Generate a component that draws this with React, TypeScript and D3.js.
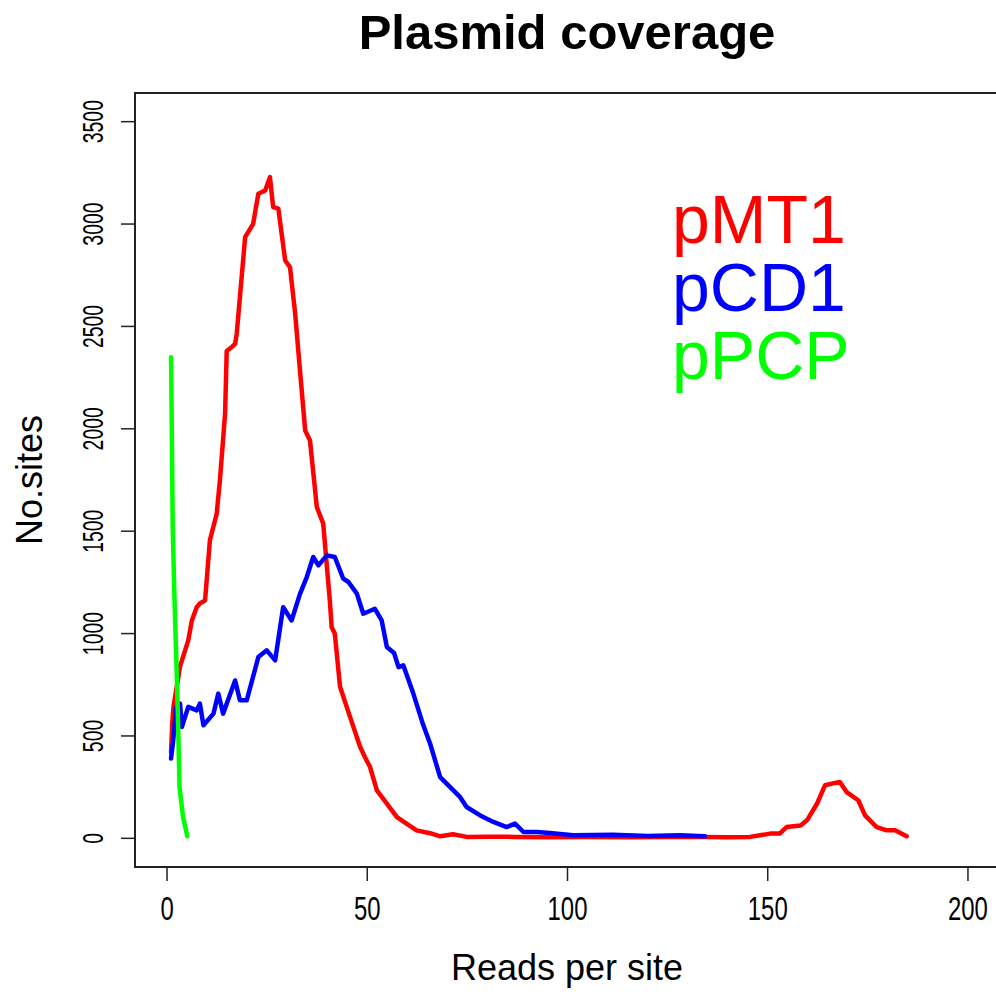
import React from 'react';
import * as d3 from 'd3';

const W = 996;
const H = 992;

const xTicks = [0, 50, 100, 150, 200];
const yTicks = [0, 500, 1000, 1500, 2000, 2500, 3000, 3500];

const seriesNames = ['pMT1', 'pCD1', 'pPCP'];
const seriesColors = ['#ff0000', '#0000ff', '#00ff00'];

const pMT1X = [1, 1.3, 1.6, 3.25, 5.3, 6.2, 7.4, 8.2, 9.5, 10.7, 12.4, 13.2, 14.5, 14.9, 16.2, 17.0, 17.4, 19.5, 21.5, 22.8, 24.5, 25.7, 26.5, 27.8, 29.5, 30.7, 32.0, 33.2, 34.5, 35.7, 37.4, 39.0, 40.7, 41.1, 41.9, 43.2, 45.7, 48.2, 49.4, 50.7, 52.4, 54.9, 57.4, 59.8, 62.3, 65.7, 68.2, 71.4, 74.8, 80, 86.5, 95, 105, 115, 125, 134.3, 140, 145.6, 150.6, 153, 154.7, 158.2, 159.8, 162.3, 164.3, 166, 168, 169.7, 172.6, 174.3, 177.2, 179.7, 181.8, 184.7];
const pMT1Y = [420, 560, 640, 840, 967, 1064, 1129, 1147, 1162, 1455, 1585, 1748, 2075, 2380, 2400, 2415, 2464, 2936, 3001, 3148, 3164, 3229, 3083, 3075, 2822, 2790, 2562, 2285, 1992, 1943, 1618, 1537, 1150, 1032, 999, 740, 593, 447, 397, 348, 234, 170, 104, 72, 39, 25, 10, 20, 7, 8, 7, 5, 6, 5, 7, 7, 5, 7, 23, 23, 55, 63, 88, 169, 259, 267, 275, 226, 186, 112, 55, 39, 39, 10];

const pCD1X = [1, 1.5, 2.3, 3.25, 3.7, 5.3, 7.4, 8.2, 9.1, 11.6, 12.8, 14.0, 17.0, 18.2, 19.9, 22.8, 24.9, 27.0, 29.0, 31.1, 33.2, 34.9, 36.5, 37.8, 39.9, 41.9, 44.0, 45.3, 47.4, 49.0, 51.9, 53.6, 54.9, 56.7, 57.8, 59.0, 61.5, 64.0, 65.7, 68.2, 70.7, 73.2, 74.8, 78.2, 81.5, 84.8, 86.9, 89.0, 92.3, 95.6, 101.4, 111.4, 120, 128.1, 134.3];
const pCD1Y = [390, 470, 640, 658, 544, 642, 625, 658, 552, 609, 707, 609, 771, 674, 674, 885, 918, 869, 1129, 1064, 1194, 1276, 1374, 1333, 1382, 1374, 1268, 1252, 1195, 1097, 1121, 1064, 934, 905, 836, 845, 707, 552, 462, 299, 250, 201, 153, 112, 80, 55, 72, 31, 31, 26, 15, 18, 12, 15, 10];

const pPCPX = [1.0, 1.07, 1.42, 1.87, 2.42, 2.82, 3.12, 4.0, 5.07];
const pPCPY = [2349, 2236, 1519, 1162, 806, 513, 249, 103, 10];

const FONT = "'Liberation Sans', Arial, sans-serif";

export default function App() {
  const x = d3.scaleLinear().domain([-8, 208]).range([135, 1000]);
  const y = d3.scaleLinear().domain([-140, 3640]).range([867, 93]);
  const line = d3
    .line<[number, number]>()
    .x((d) => x(d[0]))
    .y((d) => y(d[1]));

  const series: [number[], number[]][] = [
    [pMT1X, pMT1Y],
    [pCD1X, pCD1Y],
    [pPCPX, pPCPY],
  ];

  const [x0, x1] = x.range();
  const [yb, yt] = y.range();

  return (
    <svg
      width={W}
      height={H}
      style={{ position: 'absolute', left: 0, top: 0, background: '#fff' }}
      fontFamily={FONT}
    >
      <rect x={0} y={0} width={W} height={H} fill="#fff" />
      <text x={567} y={49} textAnchor="middle" fontSize={49} fontWeight="bold" fill="#000">
        Plasmid coverage
      </text>

      {series.map(([xs, ys], i) => (
        <path
          key={seriesNames[i]}
          d={line(xs.map((v, j) => [v, ys[j]] as [number, number])) || ''}
          fill="none"
          stroke={seriesColors[i]}
          strokeWidth={4.5}
          strokeLinejoin="round"
          strokeLinecap="round"
        />
      ))}

      <rect x={x0} y={yt} width={x1 - x0} height={yb - yt} fill="none" stroke="#222" strokeWidth={2} />

      {xTicks.map((t) => (
        <g key={'x' + t}>
          <line x1={x(t)} x2={x(t)} y1={yb} y2={yb + 14} stroke="#222" strokeWidth={1.5} />
          <text
            x={x(t)}
            y={920}
            textAnchor="middle"
            fontSize={34}
            textLength={13.3 * String(t).length}
            lengthAdjust="spacingAndGlyphs"
            fill="#000"
          >
            {t}
          </text>
        </g>
      ))}

      {yTicks.map((t) => (
        <g key={'y' + t}>
          <line x1={x0 - 14} x2={x0} y1={y(t)} y2={y(t)} stroke="#222" strokeWidth={1.5} />
          <text
            transform={`translate(103,${y(t)}) rotate(-90)`}
            textAnchor="middle"
            fontSize={29}
            textLength={10.8 * String(t).length}
            lengthAdjust="spacingAndGlyphs"
            fill="#000"
          >
            {t}
          </text>
        </g>
      ))}

      <text x={567} y={980} textAnchor="middle" fontSize={36} fill="#000">
        Reads per site
      </text>
      <text transform="translate(42,480) rotate(-90)" textAnchor="middle" fontSize={36} fill="#000">
        No.sites
      </text>

      {seriesNames.map((n, i) => (
        <text key={n} x={672} y={243 + i * 68} fontSize={68} fill={seriesColors[i]}>
          {n}
        </text>
      ))}
    </svg>
  );
}
